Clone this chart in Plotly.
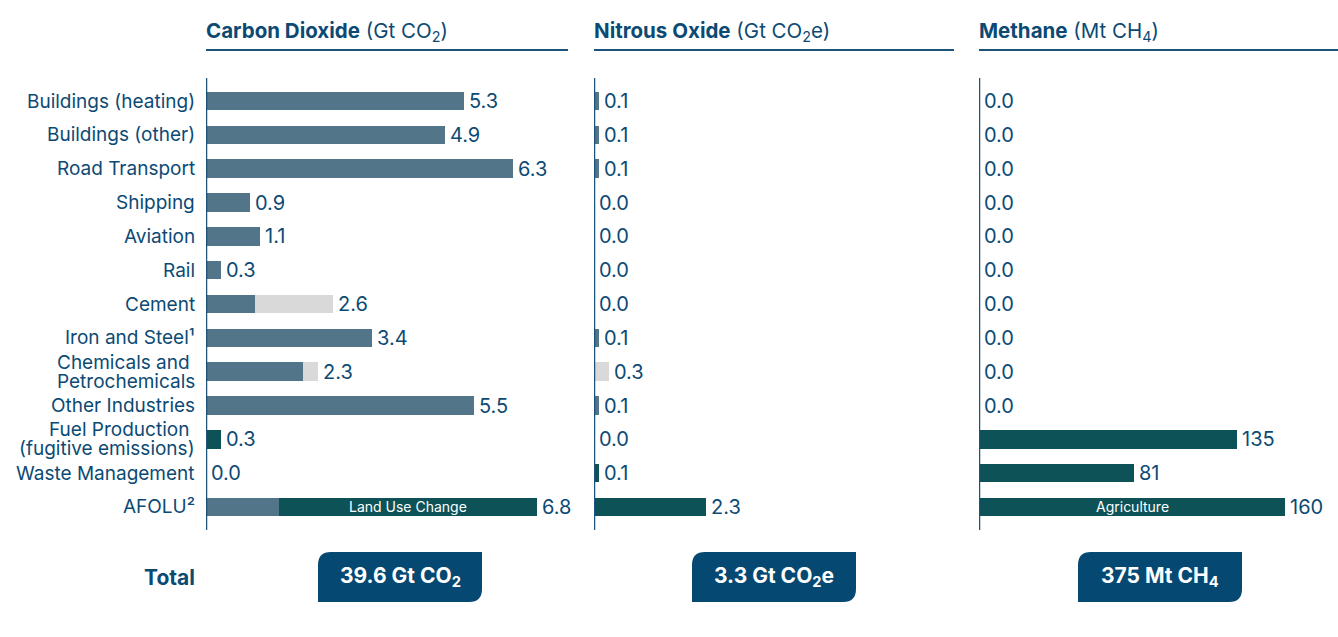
import plotly.graph_objects as go

categories = ["Buildings (heating)", "Buildings (other)", "Road Transport", "Shipping", "Aviation",
              "Rail", "Cement", "Iron and Steel¹", "Chemicals and <br>Petrochemicals", "Other Industries",
              "Fuel Production <br>(fugitive emissions)", "Waste Management", "AFOLU²"]

co2_main =    [5.3, 4.9, 6.3, 0.9, 1.1, 0.3, 1.0, 3.4, 2.0, 5.5, 0.0, 0.0, 1.5]
co2_process = [0.0, 0.0, 0.0, 0.0, 0.0, 0.0, 1.6, 0.0, 0.3, 0.0, 0.0, 0.0, 0.0]
co2_green =   [0.0, 0.0, 0.0, 0.0, 0.0, 0.0, 0.0, 0.0, 0.0, 0.0, 0.3, 0.0, 5.3]

n2o_main =    [0.1, 0.1, 0.1, 0.0, 0.0, 0.0, 0.0, 0.1, 0.0, 0.1, 0.0, 0.0, 0.0]
n2o_process = [0.0, 0.0, 0.0, 0.0, 0.0, 0.0, 0.0, 0.0, 0.3, 0.0, 0.0, 0.0, 0.0]
n2o_green =   [0.0, 0.0, 0.0, 0.0, 0.0, 0.0, 0.0, 0.0, 0.0, 0.0, 0.0, 0.1, 2.3]

ch4_green =   [0, 0, 0, 0, 0, 0, 0, 0, 0, 0, 135, 81, 160]

panel_titles = ["<b>Carbon Dioxide</b> (Gt CO<sub>2</sub>)",
                "<b>Nitrous Oxide</b> (Gt CO<sub>2</sub>e)",
                "<b>Methane</b> (Mt CH<sub>4</sub>)"]
totals = ["39.6 Gt CO<sub>2</sub>", "3.3 Gt CO<sub>2</sub>e", "375 Mt CH<sub>4</sub>"]
inner_labels = {"x": (12, "Land Use Change"), "x3": (12, "Agriculture")}

W, H = 1338, 637
FONT = "Inter"
NAVY = "#0c4a74"
BLUEGREY = "#527589"
GREEN = "#0c5257"
GREY = "#d9d9d9"
BOX = "#054872"
AXIS = "#1d527a"

def px(x):
    return x / W

def py(y):
    return 1 - y / H

ypos = list(range(len(categories)))
fig = go.Figure()

panels = [
    ("x", [(co2_main, BLUEGREY), (co2_process, GREY), (co2_green, GREEN)]),
    ("x2", [(n2o_main, BLUEGREY), (n2o_process, GREY), (n2o_green, GREEN)]),
    ("x3", [(ch4_green, GREEN)]),
]

for xa, series in panels:
    for vals, col in series:
        fig.add_trace(go.Bar(x=vals, y=ypos, orientation="h", xaxis=xa, yaxis="y",
                             marker=dict(color=col, line=dict(width=0)),
                             showlegend=False, hoverinfo="skip"))

annotations = []
shapes = []

# category labels (drawn as annotations for tight line spacing)
for i, cat in enumerate(categories):
    lines = cat.split("<br>")
    n = len(lines)
    for j, line in enumerate(lines):
        if line.endswith(" "):
            line = line.rstrip() + "\u00a0"
        shift = (j - (n - 1) / 2) * 19
        annotations.append(dict(x=px(197), y=i, xref="paper", yref="y", text=line,
                                showarrow=False, xanchor="right", yanchor="middle",
                                yshift=-shift,
                                font=dict(family=FONT, size=19, color=NAVY)))

# value labels
for xa, series in panels:
    for i in ypos:
        tot = sum(s[0][i] for s in series)
        if xa == "x3":
            txt = "0.0" if tot == 0 else f"{tot:.0f}"
        else:
            txt = f"{tot:.1f}"
        annotations.append(dict(x=tot, y=i, xref=xa, yref="y", text=txt, showarrow=False,
                                xanchor="left", yanchor="middle", xshift=3,
                                font=dict(family=FONT, size=20, color=NAVY)))

# inner labels
for xa, (idx, txt) in inner_labels.items():
    series = dict(panels)[xa]
    start = sum(s[0][idx] for s in series[:-1])
    end = start + series[-1][0][idx]
    annotations.append(dict(x=(start + end) / 2, y=idx, xref=xa, yref="y", text=txt,
                            showarrow=False, xanchor="center", yanchor="middle",
                            font=dict(family=FONT, size=14, color="white")))

# panel geometry (pixels)
panel_px = [(206, 568, 362 / 48.7), (594, 954, 360 / 48.7), (979, 1338, 359 / 1.9125)]
box_px = [(318, 482), (692, 856), (1078, 1242)]

for k, ((x0, x1, rng), title, tot, (b0, b1)) in enumerate(zip(panel_px, panel_titles, totals, box_px)):
    xa = "x" if k == 0 else f"x{k+1}"
    annotations.append(dict(x=px(x0), y=py(32), xref="paper", yref="paper", text=title,
                            showarrow=False, xanchor="left", yanchor="middle", xshift=-2,
                            font=dict(family=FONT, size=20.5, color=NAVY)))
    shapes.append(dict(type="line", xref="paper", yref="paper", x0=px(x0), x1=px(x1),
                       y0=py(50), y1=py(50), line=dict(color=AXIS, width=2)))
    shapes.append(dict(type="line", xref=xa, yref="y", x0=0, x1=0, y0=-0.68, y1=12.68,
                       line=dict(color=AXIS, width=2.5)))
    r = 13
    t, b = 552, 602
    path = (f"M {px(b0 + r)} {py(t)} L {px(b1)} {py(t)} L {px(b1)} {py(b - r)} "
            f"Q {px(b1)} {py(b)} {px(b1 - r)} {py(b)} L {px(b0)} {py(b)} L {px(b0)} {py(t + r)} "
            f"Q {px(b0)} {py(t)} {px(b0 + r)} {py(t)} Z")
    shapes.append(dict(type="path", xref="paper", yref="paper", path=path,
                       fillcolor=BOX, line=dict(width=0), layer="below"))
    annotations.append(dict(x=px((b0 + b1) / 2), y=py((t + b) / 2), xref="paper", yref="paper",
                            text=f"<b>{tot}</b>", showarrow=False, xanchor="center", yanchor="middle",
                            font=dict(family=FONT, size=21, color="white")))

annotations.append(dict(x=px(197), y=py(577), xref="paper", yref="paper", text="<b>Total</b>",
                        showarrow=False, xanchor="right", yanchor="middle",
                        font=dict(family=FONT, size=21, color=NAVY)))

def xaxis(k):
    x0, x1, rng = panel_px[k]
    return dict(domain=[px(x0), px(x1)], range=[0, rng], visible=False, fixedrange=True,
                anchor="y")

fig.update_layout(
    width=W, height=H, margin=dict(l=0, r=0, t=0, b=0),
    paper_bgcolor="white", plot_bgcolor="white",
    barmode="stack", bargap=0.45,
    xaxis=xaxis(0), xaxis2=xaxis(1), xaxis3=xaxis(2),
    yaxis=dict(domain=[py(530), py(78)], range=[12.68, -0.68], tickvals=ypos,
               showticklabels=False, showgrid=False, zeroline=False, showline=False, ticks="",
               fixedrange=True, anchor="x"),
    annotations=annotations, shapes=shapes,
)

fig.write_html("out.html", post_script="document.body.style.margin='0';",
               config={"displayModeBar": False})
